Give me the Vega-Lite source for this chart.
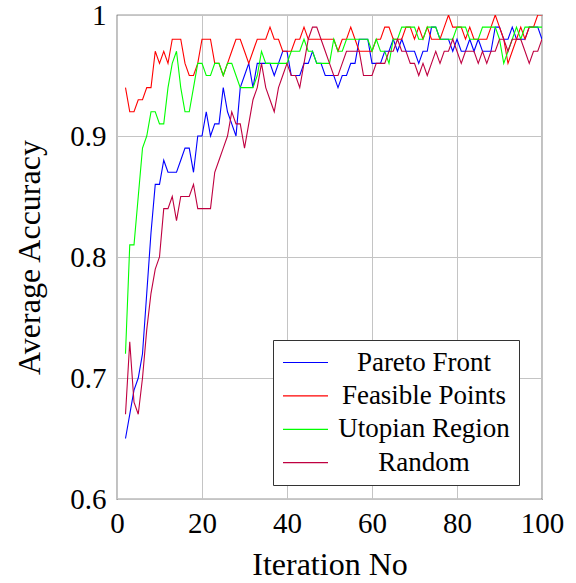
{
  "$schema": "https://vega.github.io/schema/vega-lite/v6.json",
  "width": 425,
  "height": 484,
  "autosize": {"type": "none"},
  "padding": {"left": 117, "top": 15, "right": 34, "bottom": 84},
  "background": "white",
  "config": {
    "font": "'Liberation Serif', 'DejaVu Serif', 'Noto Serif', serif",
    "view": {"stroke": "#333333", "strokeWidth": 1.2},
    "axis": {
      "grid": true,
      "gridColor": "#c4c4c4",
      "gridWidth": 1,
      "domain": false,
      "ticks": false,
      "tickSize": 0,
      "labelFont": "'Liberation Serif', 'DejaVu Serif', 'Noto Serif', serif",
      "labelFontSize": 29,
      "labelColor": "#000000",
      "titleFont": "'Liberation Serif', 'DejaVu Serif', 'Noto Serif', serif",
      "titleFontSize": 32,
      "titleFontWeight": "normal",
      "titleColor": "#000000"
    }
  },
  "data": {
    "values": [
      {"it":2,"Pareto Front":0.65,"Feasible Points":0.94,"Utopian Region":0.72,"Random":0.67},
      {"it":3,"Pareto Front":0.67,"Feasible Points":0.92,"Utopian Region":0.81,"Random":0.73},
      {"it":4,"Pareto Front":0.69,"Feasible Points":0.92,"Utopian Region":0.81,"Random":0.68},
      {"it":5,"Pareto Front":0.70,"Feasible Points":0.93,"Utopian Region":0.85,"Random":0.67},
      {"it":6,"Pareto Front":0.72,"Feasible Points":0.93,"Utopian Region":0.89,"Random":0.70},
      {"it":7,"Pareto Front":0.77,"Feasible Points":0.94,"Utopian Region":0.90,"Random":0.74},
      {"it":8,"Pareto Front":0.82,"Feasible Points":0.94,"Utopian Region":0.92,"Random":0.77},
      {"it":9,"Pareto Front":0.86,"Feasible Points":0.97,"Utopian Region":0.92,"Random":0.79},
      {"it":10,"Pareto Front":0.86,"Feasible Points":0.96,"Utopian Region":0.91,"Random":0.80},
      {"it":11,"Pareto Front":0.88,"Feasible Points":0.97,"Utopian Region":0.91,"Random":0.84},
      {"it":12,"Pareto Front":0.87,"Feasible Points":0.96,"Utopian Region":0.94,"Random":0.84},
      {"it":13,"Pareto Front":0.87,"Feasible Points":0.98,"Utopian Region":0.96,"Random":0.85},
      {"it":14,"Pareto Front":0.87,"Feasible Points":0.98,"Utopian Region":0.97,"Random":0.83},
      {"it":15,"Pareto Front":0.88,"Feasible Points":0.98,"Utopian Region":0.94,"Random":0.85},
      {"it":16,"Pareto Front":0.89,"Feasible Points":0.96,"Utopian Region":0.92,"Random":0.85},
      {"it":17,"Pareto Front":0.89,"Feasible Points":0.95,"Utopian Region":0.92,"Random":0.85},
      {"it":18,"Pareto Front":0.87,"Feasible Points":0.95,"Utopian Region":0.94,"Random":0.86},
      {"it":19,"Pareto Front":0.90,"Feasible Points":0.96,"Utopian Region":0.96,"Random":0.84},
      {"it":20,"Pareto Front":0.90,"Feasible Points":0.98,"Utopian Region":0.96,"Random":0.84},
      {"it":21,"Pareto Front":0.92,"Feasible Points":0.98,"Utopian Region":0.95,"Random":0.84},
      {"it":22,"Pareto Front":0.90,"Feasible Points":0.98,"Utopian Region":0.95,"Random":0.84},
      {"it":23,"Pareto Front":0.91,"Feasible Points":0.96,"Utopian Region":0.96,"Random":0.87},
      {"it":24,"Pareto Front":0.91,"Feasible Points":0.96,"Utopian Region":0.96,"Random":0.88},
      {"it":25,"Pareto Front":0.94,"Feasible Points":0.95,"Utopian Region":0.95,"Random":0.89},
      {"it":26,"Pareto Front":0.92,"Feasible Points":0.96,"Utopian Region":0.96,"Random":0.90},
      {"it":27,"Pareto Front":0.91,"Feasible Points":0.97,"Utopian Region":0.96,"Random":0.92},
      {"it":28,"Pareto Front":0.90,"Feasible Points":0.98,"Utopian Region":0.95,"Random":0.91},
      {"it":29,"Pareto Front":0.94,"Feasible Points":0.98,"Utopian Region":0.94,"Random":0.91},
      {"it":30,"Pareto Front":0.95,"Feasible Points":0.97,"Utopian Region":0.94,"Random":0.89},
      {"it":31,"Pareto Front":0.96,"Feasible Points":0.96,"Utopian Region":0.94,"Random":0.91},
      {"it":32,"Pareto Front":0.94,"Feasible Points":0.97,"Utopian Region":0.94,"Random":0.93},
      {"it":33,"Pareto Front":0.96,"Feasible Points":0.98,"Utopian Region":0.95,"Random":0.94},
      {"it":34,"Pareto Front":0.96,"Feasible Points":0.98,"Utopian Region":0.97,"Random":0.96},
      {"it":35,"Pareto Front":0.96,"Feasible Points":0.98,"Utopian Region":0.96,"Random":0.94},
      {"it":36,"Pareto Front":0.96,"Feasible Points":0.99,"Utopian Region":0.96,"Random":0.93},
      {"it":37,"Pareto Front":0.95,"Feasible Points":0.98,"Utopian Region":0.96,"Random":0.92},
      {"it":38,"Pareto Front":0.96,"Feasible Points":0.98,"Utopian Region":0.96,"Random":0.94},
      {"it":39,"Pareto Front":0.97,"Feasible Points":0.97,"Utopian Region":0.96,"Random":0.95},
      {"it":40,"Pareto Front":0.97,"Feasible Points":0.97,"Utopian Region":0.96,"Random":0.96},
      {"it":41,"Pareto Front":0.95,"Feasible Points":0.97,"Utopian Region":0.97,"Random":0.95},
      {"it":42,"Pareto Front":0.95,"Feasible Points":0.98,"Utopian Region":0.97,"Random":0.95},
      {"it":43,"Pareto Front":0.95,"Feasible Points":0.98,"Utopian Region":0.97,"Random":0.94},
      {"it":44,"Pareto Front":0.96,"Feasible Points":0.99,"Utopian Region":0.98,"Random":0.96},
      {"it":45,"Pareto Front":0.96,"Feasible Points":0.98,"Utopian Region":0.97,"Random":0.98},
      {"it":46,"Pareto Front":0.97,"Feasible Points":0.98,"Utopian Region":0.97,"Random":0.99},
      {"it":47,"Pareto Front":0.96,"Feasible Points":0.98,"Utopian Region":0.96,"Random":0.99},
      {"it":48,"Pareto Front":0.96,"Feasible Points":0.98,"Utopian Region":0.96,"Random":0.98},
      {"it":49,"Pareto Front":0.95,"Feasible Points":0.98,"Utopian Region":0.96,"Random":0.97},
      {"it":50,"Pareto Front":0.95,"Feasible Points":0.98,"Utopian Region":0.96,"Random":0.96},
      {"it":51,"Pareto Front":0.95,"Feasible Points":0.98,"Utopian Region":0.98,"Random":0.95},
      {"it":52,"Pareto Front":0.94,"Feasible Points":0.97,"Utopian Region":0.97,"Random":0.95},
      {"it":53,"Pareto Front":0.95,"Feasible Points":0.98,"Utopian Region":0.97,"Random":0.96},
      {"it":54,"Pareto Front":0.95,"Feasible Points":0.98,"Utopian Region":0.98,"Random":0.97},
      {"it":55,"Pareto Front":0.96,"Feasible Points":0.99,"Utopian Region":0.98,"Random":0.97},
      {"it":56,"Pareto Front":0.96,"Feasible Points":0.98,"Utopian Region":0.98,"Random":0.97},
      {"it":57,"Pareto Front":0.98,"Feasible Points":0.97,"Utopian Region":0.98,"Random":0.97},
      {"it":58,"Pareto Front":0.98,"Feasible Points":0.97,"Utopian Region":0.98,"Random":0.95},
      {"it":59,"Pareto Front":0.98,"Feasible Points":0.97,"Utopian Region":0.98,"Random":0.95},
      {"it":60,"Pareto Front":0.96,"Feasible Points":0.97,"Utopian Region":0.97,"Random":0.95},
      {"it":61,"Pareto Front":0.96,"Feasible Points":0.98,"Utopian Region":0.98,"Random":0.96},
      {"it":62,"Pareto Front":0.96,"Feasible Points":0.98,"Utopian Region":0.97,"Random":0.96},
      {"it":63,"Pareto Front":0.97,"Feasible Points":0.99,"Utopian Region":0.97,"Random":0.96},
      {"it":64,"Pareto Front":0.97,"Feasible Points":0.99,"Utopian Region":0.96,"Random":0.97},
      {"it":65,"Pareto Front":0.98,"Feasible Points":0.98,"Utopian Region":0.98,"Random":0.97},
      {"it":66,"Pareto Front":0.97,"Feasible Points":0.98,"Utopian Region":0.98,"Random":0.98},
      {"it":67,"Pareto Front":0.98,"Feasible Points":0.98,"Utopian Region":0.99,"Random":0.97},
      {"it":68,"Pareto Front":0.97,"Feasible Points":0.99,"Utopian Region":0.99,"Random":0.97},
      {"it":69,"Pareto Front":0.97,"Feasible Points":0.99,"Utopian Region":0.99,"Random":0.96},
      {"it":70,"Pareto Front":0.97,"Feasible Points":0.98,"Utopian Region":0.99,"Random":0.96},
      {"it":71,"Pareto Front":0.96,"Feasible Points":0.99,"Utopian Region":0.98,"Random":0.95},
      {"it":72,"Pareto Front":0.97,"Feasible Points":0.98,"Utopian Region":0.98,"Random":0.96},
      {"it":73,"Pareto Front":0.97,"Feasible Points":0.99,"Utopian Region":0.99,"Random":0.95},
      {"it":74,"Pareto Front":0.99,"Feasible Points":0.98,"Utopian Region":0.99,"Random":0.96},
      {"it":75,"Pareto Front":0.99,"Feasible Points":0.98,"Utopian Region":0.99,"Random":0.97},
      {"it":76,"Pareto Front":0.98,"Feasible Points":0.98,"Utopian Region":0.98,"Random":0.96},
      {"it":77,"Pareto Front":0.98,"Feasible Points":0.99,"Utopian Region":0.98,"Random":0.97},
      {"it":78,"Pareto Front":0.98,"Feasible Points":1.00,"Utopian Region":0.98,"Random":0.97},
      {"it":79,"Pareto Front":0.97,"Feasible Points":0.99,"Utopian Region":0.98,"Random":0.98},
      {"it":80,"Pareto Front":0.98,"Feasible Points":0.99,"Utopian Region":0.99,"Random":0.97},
      {"it":81,"Pareto Front":0.97,"Feasible Points":0.99,"Utopian Region":0.99,"Random":0.96},
      {"it":82,"Pareto Front":0.97,"Feasible Points":0.98,"Utopian Region":0.99,"Random":0.97},
      {"it":83,"Pareto Front":0.98,"Feasible Points":0.99,"Utopian Region":0.98,"Random":0.97},
      {"it":84,"Pareto Front":0.97,"Feasible Points":0.98,"Utopian Region":0.98,"Random":0.97},
      {"it":85,"Pareto Front":0.98,"Feasible Points":0.98,"Utopian Region":0.98,"Random":0.96},
      {"it":86,"Pareto Front":0.97,"Feasible Points":0.98,"Utopian Region":0.99,"Random":0.97},
      {"it":87,"Pareto Front":0.97,"Feasible Points":0.98,"Utopian Region":0.99,"Random":0.96},
      {"it":88,"Pareto Front":0.97,"Feasible Points":0.99,"Utopian Region":0.99,"Random":0.97},
      {"it":89,"Pareto Front":0.99,"Feasible Points":1.00,"Utopian Region":0.99,"Random":0.97},
      {"it":90,"Pareto Front":0.99,"Feasible Points":0.99,"Utopian Region":0.98,"Random":0.98},
      {"it":91,"Pareto Front":0.98,"Feasible Points":0.98,"Utopian Region":0.96,"Random":0.98},
      {"it":92,"Pareto Front":0.98,"Feasible Points":0.96,"Utopian Region":0.97,"Random":0.97},
      {"it":93,"Pareto Front":0.99,"Feasible Points":0.97,"Utopian Region":0.98,"Random":0.98},
      {"it":94,"Pareto Front":0.98,"Feasible Points":0.98,"Utopian Region":0.99,"Random":0.98},
      {"it":95,"Pareto Front":0.98,"Feasible Points":0.99,"Utopian Region":0.98,"Random":0.98},
      {"it":96,"Pareto Front":0.98,"Feasible Points":0.98,"Utopian Region":0.99,"Random":0.97},
      {"it":97,"Pareto Front":0.99,"Feasible Points":0.99,"Utopian Region":0.99,"Random":0.96},
      {"it":98,"Pareto Front":0.99,"Feasible Points":0.99,"Utopian Region":0.99,"Random":0.97},
      {"it":99,"Pareto Front":0.99,"Feasible Points":1.00,"Utopian Region":0.99,"Random":0.97},
      {"it":100,"Pareto Front":0.98,"Feasible Points":1.00,"Utopian Region":0.99,"Random":0.98}
    ]
  },
  "transform": [
    {"fold": ["Pareto Front", "Feasible Points", "Utopian Region", "Random"], "as": ["series", "acc"]}
  ],
  "mark": {"type": "line", "strokeWidth": 1.1, "clip": true},
  "encoding": {
    "x": {
      "field": "it",
      "type": "quantitative",
      "scale": {"domain": [0, 100], "nice": false},
      "axis": {"values": [0, 20, 40, 60, 80, 100], "title": "Iteration No", "labelPadding": 10, "titlePadding": 11, "labelFlush": false}
    },
    "y": {
      "field": "acc",
      "type": "quantitative",
      "scale": {"domain": [0.6, 1], "nice": false, "zero": false},
      "axis": {"values": [0.6, 0.7, 0.8, 0.9, 1], "format": "~g", "title": "Average Accuracy", "labelPadding": 11, "titlePadding": 23, "labelFlush": false}
    },
    "color": {
      "field": "series",
      "type": "nominal",
      "scale": {
        "domain": ["Pareto Front", "Feasible Points", "Utopian Region", "Random"],
        "range": ["#0000ff", "#ff0000", "#00ff00", "#bf0040"]
      },
      "legend": {
        "orient": "none",
        "legendX": 156,
        "legendY": 325,
        "title": null,
        "symbolType": "M-3,0H3",
        "symbolSize": 225,
        "symbolOffset": 10,
        "symbolStrokeWidth": 1.2,
        "labelFont": "'Liberation Serif', 'DejaVu Serif', 'Noto Serif', serif",
        "labelFontSize": 27,
        "labelColor": "#000000",
        "labelAlign": "center",
        "labelOffset": 105,
        "labelLimit": 400,
        "rowPadding": 5.4,
        "padding": 9,
        "strokeColor": "#333333",
        "fillColor": "#ffffff",
        "cornerRadius": 0
      }
    }
  }
}
